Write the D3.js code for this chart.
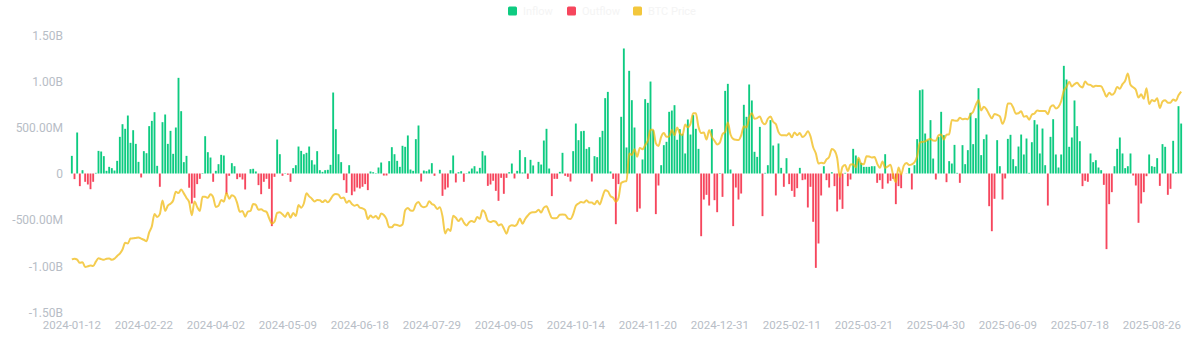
<!DOCTYPE html>
<html>
<head>
<meta charset="utf-8">
<script src="https://cdn.jsdelivr.net/npm/d3@7/dist/d3.min.js"></script>
<style>
  html, body { margin: 0; padding: 0; background: #ffffff; }
  svg { display: block; }
  .axis text { font-family: "Liberation Sans Narrow", "Roboto", "DejaVu Sans", sans-serif; }
</style>
</head>
<body>
<svg id="chart" width="1200" height="358"></svg>
<script>
// ---------- DATA ----------
const startDate = "2024-01-12";
const endDate = "2025-09-11";
const marketHolidays = [
  "2024-01-15","2024-02-19","2024-03-29","2024-05-27","2024-06-19","2024-07-04","2024-09-02","2024-11-28","2024-12-25",
  "2025-01-01","2025-01-09","2025-01-20","2025-02-17","2025-04-18","2025-05-26","2025-06-19","2025-07-04","2025-09-01"
];
const tickLabels = ["2024-01-12","2024-02-22","2024-04-02","2024-05-09","2024-06-18","2024-07-29","2024-09-05","2024-10-14",
  "2024-11-20","2024-12-31","2025-02-11","2025-03-21","2025-04-30","2025-06-09","2025-07-18","2025-08-26"];
const yTicks = [-1.5e9, -1e9, -5e8, 0, 5e8, 1e9, 1.5e9];
const yTickLabels = ["-1.50B", "-1.00B", "-500.00M", "0", "500.00M", "1.00B", "1.50B"];
const legendNames = ["Inflow", "Outflow", "BTC Price"];

// daily net flow, millions USD
const netFlow = [
  191,-61,444,-137,36,-90,-119,-170,-90,7,245,238,188,29,72,58,32,137,397,534,
  484,628,332,469,321,126,-43,242,220,513,570,664,83,-144,556,639,321,462,213,498,
  1036,675,123,191,-154,-325,-263,-115,-58,5,404,231,173,-90,29,101,202,195,-224,-25,
  112,79,-61,-40,-65,-173,0,47,51,22,-126,-224,-90,-58,-166,-570,-36,368,209,-25,
  4,-14,-90,58,90,292,245,209,224,292,144,97,242,36,18,36,40,94,877,480,
  209,123,-72,-209,90,-235,-195,-152,-162,-144,-115,-180,22,14,4,65,119,-22,-22,134,
  285,209,137,72,300,289,412,43,29,372,520,-87,32,25,43,112,-25,0,40,-242,
  -173,-152,36,195,-97,14,25,-90,4,22,54,79,22,61,242,195,-134,-119,-79,-188,
  -296,-47,-220,-47,14,108,-54,29,253,11,177,-58,148,87,0,126,97,357,484,54,
  -245,-58,-58,18,224,-25,-36,-87,242,541,361,458,462,267,285,-87,188,177,393,462,
  816,884,22,-58,-549,-115,614,1354,282,1112,794,498,-415,-379,152,805,765,996,469,-440,
  -130,90,307,343,668,682,740,365,480,426,217,585,422,632,484,267,-679,-282,-231,-347,
  480,-289,-419,5,-253,895,971,43,-570,-152,-282,-217,744,614,964,791,235,180,505,-462,
  7,90,578,303,-238,325,61,-144,166,-115,-188,-253,-159,61,-72,-65,-368,-144,-523,-1022,
  -758,-238,79,-72,-152,14,-137,-411,-282,-383,7,-137,-65,267,195,159,116,72,72,72,
  79,79,-101,-72,-166,209,-108,-79,-58,-332,-137,-159,0,2,61,-173,90,372,902,910,
  433,361,578,162,-65,397,668,415,-94,134,108,310,7,-101,307,101,253,657,318,599,
  924,199,372,422,-354,-625,-274,361,79,-282,-54,375,419,155,79,292,422,206,379,7,
  339,578,531,217,487,90,-347,397,588,206,65,206,1166,1018,289,390,791,513,350,-137,
  -79,-90,217,123,144,65,36,-123,-819,-332,-202,79,267,390,217,58,79,217,-22,-130,
  -534,-325,-202,-29,206,79,72,166,-134,318,289,-231,-166,354,14,729,541
];

// BTC price, thousands USD
const btcPrice = [
  42.8,43.1,42.7,41.3,41.6,39.5,39.8,40.1,39.9,41.8,43.3,42.9,42.6,43.1,43.2,42.6,43.1,44.3,45.3,47.1,
  50.0,49.7,51.8,51.9,52.1,52.3,51.8,51.3,50.7,54.5,57.1,62.5,61.2,62.4,68.3,63.8,66.1,66.9,68.3,72.1,
  71.5,73.1,71.4,69.4,67.6,61.9,67.9,65.5,63.8,69.9,69.9,69.5,71.0,69.7,65.5,66.0,68.5,67.8,71.6,69.1,
  70.6,70.0,67.2,63.4,63.8,61.3,63.5,63.8,66.8,66.4,64.3,64.5,63.8,63.4,60.6,58.3,59.1,62.9,63.2,62.3,
  61.2,63.1,60.8,62.9,61.6,66.3,65.2,67.0,71.4,70.1,69.1,67.9,68.5,68.4,67.6,68.4,67.5,68.8,70.6,71.1,
  70.8,69.3,69.6,67.3,68.2,66.8,66.0,66.5,65.2,64.9,64.1,60.3,61.8,60.9,61.6,60.3,62.7,62.0,60.2,56.7,
  56.7,57.9,57.7,57.3,57.9,64.1,65.1,64.0,63.9,66.7,67.6,65.9,65.4,65.8,68.0,66.8,66.2,64.6,65.4,61.5,
  54.0,56.0,55.1,61.7,60.8,59.4,60.6,58.7,57.5,58.9,59.4,59.0,61.2,60.4,64.1,62.9,59.5,59.0,59.4,59.1,
  57.5,58.0,56.2,53.9,57.0,57.6,57.3,58.1,60.5,58.2,60.3,61.8,62.9,63.2,63.3,64.3,63.1,65.2,65.8,63.3,
  60.8,60.6,60.8,62.1,62.2,62.1,60.6,60.3,62.4,66.0,67.0,67.6,67.4,68.4,67.4,67.4,66.7,68.2,66.6,69.9,
  72.7,72.3,70.2,69.5,67.8,69.4,75.9,76.5,76.7,88.7,88.0,90.5,87.3,91.1,90.5,92.3,94.3,98.9,98.9,93.1,
  91.9,95.9,97.5,95.9,96.0,98.8,96.6,99.9,97.4,96.7,101.2,100.0,101.5,106.1,106.1,100.2,97.5,97.8,94.7,98.7,
  95.8,94.2,92.6,93.4,97.0,98.1,102.1,96.9,95.0,94.6,94.5,96.5,100.5,99.9,104.1,106.1,103.7,104.0,104.7,102.1,
  101.3,103.7,104.7,102.4,101.4,97.9,96.6,96.6,96.5,97.4,95.7,97.8,96.6,97.5,95.8,96.6,98.3,96.1,91.4,88.7,
  84.3,84.7,84.4,86.1,87.2,90.6,89.9,86.7,78.5,82.9,83.7,81.0,83.9,84.0,82.7,86.8,84.2,84.0,87.5,87.4,
  86.9,87.2,84.3,82.5,85.2,82.5,83.1,83.8,79.2,76.3,82.6,79.6,83.4,84.5,83.7,84.0,84.9,87.5,93.4,93.7,
  93.9,94.7,95.0,94.3,94.2,96.5,96.9,94.7,96.8,97.0,103.2,102.9,102.8,104.1,103.5,103.7,103.5,105.6,106.8,109.7,
  111.7,107.3,108.9,107.8,105.6,103.9,105.8,105.4,104.7,101.5,104.3,110.3,110.3,108.6,105.9,106.1,107.0,104.6,104.9,103.3,
  105.5,106.0,107.3,107.1,107.1,107.1,105.7,108.8,109.6,108.2,108.9,111.3,115.9,117.5,119.8,117.7,118.7,119.3,117.9,117.3,
  119.9,118.6,118.4,117.6,118.0,117.9,117.8,115.7,113.3,115.0,114.1,115.0,117.5,116.7,118.7,120.2,123.3,118.4,117.4,116.3,
  112.9,114.3,112.4,116.9,110.1,111.8,111.3,112.6,108.4,111.2,111.7,110.7,110.7,112.1,111.5,113.9,115.5
];

// ---------- CATEGORIES (US trading days) ----------
const fmtDay = d3.utcFormat("%Y-%m-%d");
const holidaySet = new Set(marketHolidays);
const tradingDays = d3.utcDays(new Date(startDate + "T00:00:00Z"), d3.utcDay.offset(new Date(endDate + "T00:00:00Z"), 1))
  .filter(d => d.getUTCDay() !== 0 && d.getUTCDay() !== 6 && !holidaySet.has(fmtDay(d)))
  .map(fmtDay);

(function draw() {
  const n = Math.min(tradingDays.length, netFlow.length, btcPrice.length);
  const cats = tradingDays.slice(0, n);
  const rows = d3.range(n).map(i => ({ date: cats[i], flow: netFlow[i] * 1e6, price: btcPrice[i] * 1000 }));

  const svg = d3.select("#chart");
  const plotLeft = 70.5, plotRight = 1182.5, plotTop = 35, plotBottom = 312;
  const GREEN = "#0ecb81", RED = "#f6465d", GOLD = "#f0b90b";
  const axisColor = "#b7bdc6";

  const x = d3.scaleBand().domain(cats).range([plotLeft, plotRight]).paddingInner(0.3).paddingOuter(0.15);
  const y = d3.scaleLinear().domain([-1.5e9, 1.5e9]).range([plotBottom, plotTop]);
  const yPrice = d3.scaleLinear().domain([20000, 140000]).range([plotBottom, plotTop]);

  svg.append("g").selectAll("rect").data(rows).join("rect")
    .attr("x", d => x(d.date))
    .attr("width", x.bandwidth())
    .attr("y", d => Math.min(y(d.flow), y(0)))
    .attr("height", d => Math.abs(y(d.flow) - y(0)))
    .attr("fill", d => d.flow >= 0 ? GREEN : RED);

  const line = d3.line()
    .x(d => x(d.date) + x.bandwidth() / 2)
    .y(d => yPrice(d.price))
    .curve(d3.curveMonotoneX);
  svg.append("path").datum(rows)
    .attr("d", line)
    .attr("fill", "none")
    .attr("stroke", GOLD)
    .attr("stroke-opacity", 0.72)
    .attr("stroke-width", 2)
    .attr("stroke-linejoin", "round");

  const yAxis = d3.axisLeft(y).tickValues(yTicks).tickSize(0).tickPadding(0)
    .tickFormat((d, i) => yTickLabels[i]);
  const gy = svg.append("g").attr("class", "axis").attr("transform", "translate(63,0)").call(yAxis);
  gy.select(".domain").remove();
  gy.selectAll("text").attr("fill", axisColor).attr("font-size", 12).attr("dy", "0.35em");

  const xAxis = d3.axisBottom(x).tickValues(tickLabels.filter(t => cats.includes(t))).tickSize(0).tickPadding(0);
  const gx = svg.append("g").attr("class", "axis").attr("transform", "translate(0,320.5)").call(xAxis);
  gx.select(".domain").remove();
  gx.selectAll("text").attr("fill", axisColor).attr("font-size", 11.5).attr("dy", "0.71em");

  const legendColors = [GREEN, RED, GOLD];
  const legendX = [508, 567, 633];
  const lg = svg.append("g");
  legendNames.forEach((name, i) => {
    lg.append("rect").attr("x", legendX[i]).attr("y", 6.5).attr("width", 9).attr("height", 9).attr("rx", 1.5)
      .attr("fill", legendColors[i]).attr("fill-opacity", i === 2 ? 0.8 : 1);
    lg.append("text").attr("x", legendX[i] + 15).attr("y", 11).attr("dy", "0.35em")
      .attr("font-family", "Liberation Sans Narrow, Roboto, sans-serif").attr("font-size", 11)
      .attr("fill", "#f4f4f4").text(name);
  });
})();
</script>
</body>
</html>
